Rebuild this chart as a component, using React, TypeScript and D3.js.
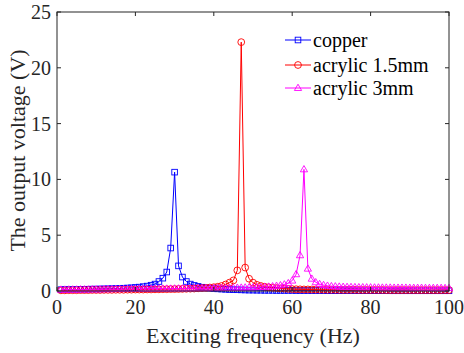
import React from "react";
import * as d3 from "d3";

// Excitation frequency (Hz), 1 Hz steps
const frequency: number[] = d3.range(1, 101);

const copper: number[] = [
  0.12, 0.13, 0.13, 0.14, 0.14, 0.15, 0.15, 0.16, 0.17, 0.17,
  0.18, 0.19, 0.2, 0.21, 0.22, 0.23, 0.25, 0.27, 0.29, 0.32,
  0.35, 0.39, 0.44, 0.52, 0.62, 0.85, 1.15, 1.7, 3.85, 10.65,
  2.25, 1.25, 0.85, 0.62, 0.5, 0.41, 0.34, 0.29, 0.25, 0.22,
  0.19, 0.17, 0.15, 0.13, 0.12, 0.11, 0.1, 0.09, 0.08, 0.08,
  0.07, 0.07, 0.06, 0.06, 0.06, 0.05, 0.05, 0.05, 0.05, 0.05,
  0.04, 0.04, 0.04, 0.04, 0.04, 0.04, 0.04, 0.04, 0.03, 0.03,
  0.03, 0.03, 0.03, 0.03, 0.03, 0.03, 0.03, 0.03, 0.03, 0.03,
  0.03, 0.03, 0.03, 0.03, 0.02, 0.02, 0.02, 0.02, 0.02, 0.02,
  0.02, 0.02, 0.02, 0.02, 0.02, 0.02, 0.02, 0.02, 0.02, 0.02,
];

const acrylic15: number[] = [
  0.06, 0.06, 0.07, 0.07, 0.07, 0.08, 0.08, 0.08, 0.09, 0.09,
  0.09, 0.1, 0.1, 0.1, 0.11, 0.11, 0.11, 0.12, 0.12, 0.13,
  0.13, 0.13, 0.14, 0.14, 0.15, 0.15, 0.16, 0.16, 0.17, 0.17,
  0.18, 0.19, 0.2, 0.21, 0.22, 0.24, 0.26, 0.28, 0.31, 0.34,
  0.38, 0.45, 0.58, 0.75, 0.95, 1.85, 22.3, 2.1, 1.1, 0.75,
  0.55, 0.45, 0.38, 0.33, 0.29, 0.26, 0.23, 0.21, 0.19, 0.17,
  0.16, 0.15, 0.14, 0.14, 0.13, 0.13, 0.12, 0.12, 0.11, 0.11,
  0.11, 0.1, 0.1, 0.1, 0.1, 0.1, 0.09, 0.09, 0.09, 0.09,
  0.09, 0.09, 0.09, 0.08, 0.08, 0.08, 0.08, 0.08, 0.08, 0.08,
  0.08, 0.08, 0.08, 0.08, 0.08, 0.08, 0.08, 0.08, 0.08, 0.08,
];

const acrylic3: number[] = [
  0.12, 0.12, 0.13, 0.13, 0.13, 0.14, 0.14, 0.14, 0.15, 0.15,
  0.15, 0.16, 0.16, 0.16, 0.17, 0.17, 0.17, 0.18, 0.18, 0.18,
  0.19, 0.19, 0.19, 0.2, 0.2, 0.2, 0.21, 0.21, 0.21, 0.22,
  0.22, 0.22, 0.23, 0.23, 0.24, 0.24, 0.24, 0.25, 0.25, 0.26,
  0.26, 0.27, 0.27, 0.28, 0.28, 0.29, 0.3, 0.31, 0.32, 0.33,
  0.34, 0.35, 0.37, 0.39, 0.42, 0.46, 0.51, 0.59, 0.7, 0.93,
  1.5, 3.2, 10.9, 2.0, 1.1, 0.78, 0.62, 0.53, 0.47, 0.43,
  0.41, 0.39, 0.37, 0.36, 0.35, 0.34, 0.33, 0.33, 0.32, 0.32,
  0.31, 0.31, 0.3, 0.3, 0.3, 0.29, 0.29, 0.29, 0.29, 0.28,
  0.28, 0.28, 0.28, 0.27, 0.27, 0.27, 0.27, 0.27, 0.26, 0.26,
];

const seriesNames = ["copper", "acrylic 1.5mm", "acrylic 3mm"];
const seriesColors = ["#0000ff", "#ff0000", "#ff00ff"];
const seriesMarkers = ["square", "circle", "triangle"];
const seriesValues = [copper, acrylic15, acrylic3];

const xTicks = [0, 20, 40, 60, 80, 100];
const yTicks = [0, 5, 10, 15, 20, 25];

const W = 464;
const H = 353;
const margin = { left: 57, right: 15, top: 12, bottom: 62 };
const FONT = "'Liberation Serif', 'Times New Roman', serif";
const AXIS_COLOR = "#262626";

function Marker({ kind, x, y, color }: { kind: string; x: number; y: number; color: string }) {
  const common = { fill: "none", stroke: color, strokeWidth: 0.9 };
  if (kind === "square") {
    return <rect x={x - 2.8} y={y - 2.8} width={5.6} height={5.6} {...common} />;
  }
  if (kind === "circle") {
    return <circle cx={x} cy={y} r={3.4} {...common} />;
  }
  const r = 3.8;
  const pts = [
    [x, y - r],
    [x - r * 0.95, y + r * 0.65],
    [x + r * 0.95, y + r * 0.65],
  ]
    .map((p) => p.join(","))
    .join(" ");
  return <polygon points={pts} {...common} />;
}

export default function App() {
  const x = d3.scaleLinear().domain([0, 100]).range([margin.left, W - margin.right]);
  const y = d3.scaleLinear().domain([0, 25]).range([H - margin.bottom, margin.top]);
  const x0 = margin.left;
  const x1 = W - margin.right;
  const y0 = H - margin.bottom;
  const y1 = margin.top;
  const tick = 4;

  const line = d3
    .line<number>()
    .x((_, i) => x(frequency[i]))
    .y((d) => y(d));

  const legendX = 285;
  const legendY = [40, 65, 88];

  return (
    <svg width={W} height={H} style={{ position: "absolute", left: 0, top: 0, background: "#fff" }}>
      <rect x={0} y={0} width={W} height={H} fill="#fff" />
      {seriesValues.map((vals, si) => (
        <g key={si}>
          <path d={line(vals) ?? ""} fill="none" stroke={seriesColors[si]} strokeWidth={1} />
          {vals.map((v, i) => (
            <Marker key={i} kind={seriesMarkers[si]} x={x(frequency[i])} y={y(v)} color={seriesColors[si]} />
          ))}
        </g>
      ))}

      {/* axes box and inward ticks */}
      <rect x={x0} y={y1} width={x1 - x0} height={y0 - y1} fill="none" stroke={AXIS_COLOR} strokeWidth={1} />
      {xTicks.map((t) => (
        <g key={"x" + t}>
          <line x1={x(t)} x2={x(t)} y1={y0} y2={y0 - tick} stroke={AXIS_COLOR} />
          <line x1={x(t)} x2={x(t)} y1={y1} y2={y1 + tick} stroke={AXIS_COLOR} />
          <text x={x(t)} y={y0 + 23} textAnchor="middle" fontFamily={FONT} fontSize={20} fill={AXIS_COLOR}>
            {t}
          </text>
        </g>
      ))}
      {yTicks.map((t) => (
        <g key={"y" + t}>
          <line x1={x0} x2={x0 + tick} y1={y(t)} y2={y(t)} stroke={AXIS_COLOR} />
          <line x1={x1} x2={x1 - tick} y1={y(t)} y2={y(t)} stroke={AXIS_COLOR} />
          <text x={x0 - 6} y={y(t)} dy="0.35em" textAnchor="end" fontFamily={FONT} fontSize={20} fill={AXIS_COLOR}>
            {t}
          </text>
        </g>
      ))}

      <text x={(x0 + x1) / 2} y={H - 10} textAnchor="middle" fontFamily={FONT} fontSize={22} fill={AXIS_COLOR}>
        Exciting frequency (Hz)
      </text>
      <text
        transform={`translate(25, ${(y0 + y1) / 2 - 1}) rotate(-90)`}
        textAnchor="middle"
        fontFamily={FONT}
        fontSize={22}
        fill={AXIS_COLOR}
      >
        The output voltage (V)
      </text>

      {/* legend */}
      {seriesNames.map((name, si) => (
        <g key={name}>
          <line x1={legendX} x2={legendX + 26} y1={legendY[si]} y2={legendY[si]} stroke={seriesColors[si]} strokeWidth={1} />
          <Marker kind={seriesMarkers[si]} x={legendX + 13} y={legendY[si]} color={seriesColors[si]} />
          <text x={legendX + 28} y={legendY[si]} dy="0.35em" fontFamily={FONT} fontSize={20} fill="#000">
            {name}
          </text>
        </g>
      ))}
    </svg>
  );
}
